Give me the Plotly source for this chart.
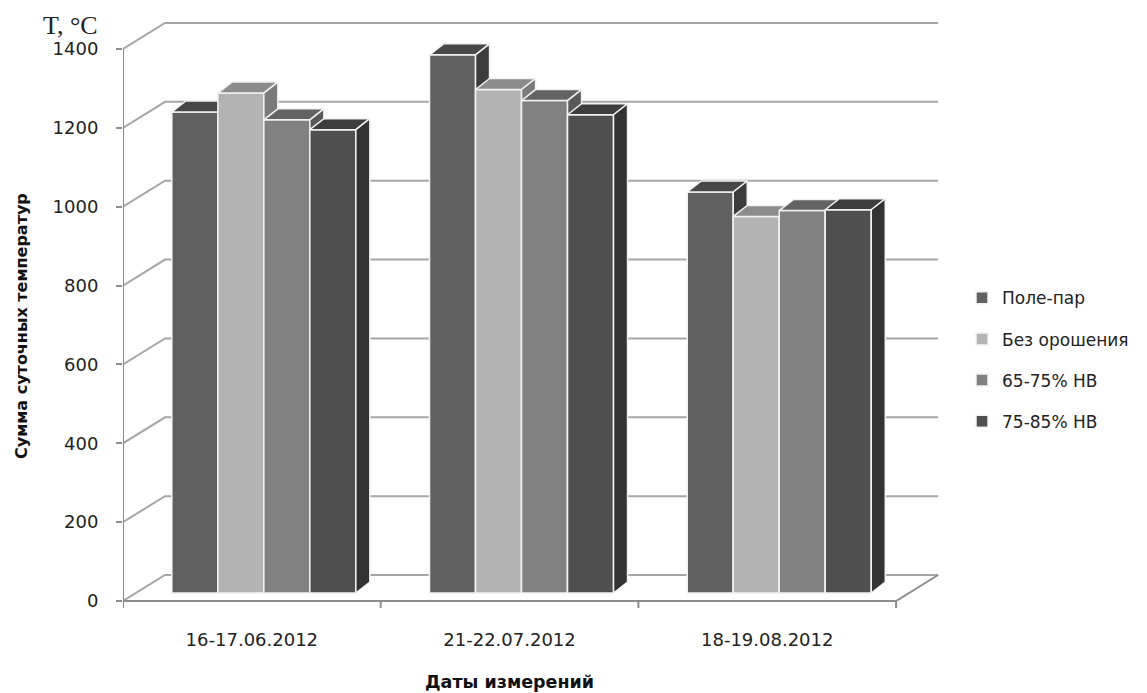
import plotly.graph_objects as go

# ---- data -------------------------------------------------------------
dates = ["16-17.06.2012", "21-22.07.2012", "18-19.08.2012"]
series_names = ["Поле-пар", "Без орошения", "65-75% НВ", "75-85% НВ"]
pole_par = [1220, 1365, 1017]
bez_orosheniya = [1268, 1277, 955]
nv_65_75 = [1200, 1249, 970]
nv_75_85 = [1175, 1213, 972]
y_ticks = [0, 200, 400, 600, 800, 1000, 1200, 1400]

series_values = [pole_par, bez_orosheniya, nv_65_75, nv_75_85]

# ---- styling ----------------------------------------------------------
front_colors = ["#606060", "#b3b3b3", "#818181", "#4f4f4f"]
top_colors = ["#484848", "#8c8c8c", "#636363", "#3d3d3d"]
side_colors = ["#3c3c3c", "#7a7a7a", "#585858", "#333333"]
edge = "#f2f2f2"
grid_color = "#a6a6a6"
sans = "DejaVu Sans"

W, H = 1147, 693
ML, MR, MT, MB = 123, 202, 10, 83
plot_w = W - ML - MR
plot_h = H - MT - MB

# axis ranges: one category = 257.7 px, 1400 units = 552 px
px_per_x = 257.7
px_per_y = 552 / 1400
x_range = [-0.5, -0.5 + plot_w / px_per_x]
y_bottom = -(plot_h - (601 - MT)) / px_per_y
y_range = [y_bottom, y_bottom + plot_h / px_per_y]


def ux(px):
    return px / px_per_x


def uy(px):
    return px / px_per_y


# oblique projection offsets
bar_w = ux(46)
bar_shift_x = ux(12)      # front face of bars sits slightly behind the front plane
bar_base = uy(8)
depth_x, depth_y = ux(14), uy(11)
wall_x, wall_y = ux(42), uy(26)
x_left, x_right = -0.5, 2.5

fig = go.Figure()

# back wall gridlines with the left-wall diagonals
gx, gy = [], []
for t in y_ticks:
    gx += [x_left, x_left + wall_x, x_right + wall_x, None]
    gy += [t, t + wall_y, t + wall_y, None]
fig.add_trace(go.Scatter(x=gx, y=gy, mode="lines", line=dict(color=grid_color, width=2),
                         hoverinfo="skip", showlegend=False, zorder=0))

# front edge of the floor, right floor edge, value axis line and category ticks
ax_x = [x_left, x_right, x_right + wall_x, None, x_left, x_left, None]
ax_y = [0, 0, wall_y, None, 0, y_ticks[-1], None]
for k in range(len(dates) + 1):
    b = x_left + k
    ax_x += [b, b, None]
    ax_y += [0, -uy(7), None]
fig.add_trace(go.Scatter(x=ax_x, y=ax_y, mode="lines", line=dict(color="#8c8c8c", width=2),
                         hoverinfo="skip", showlegend=False, zorder=0))

# columns: front face as a bar, then its top and side faces
for i, (name, vals) in enumerate(zip(series_names, series_values)):
    offset = -2 * bar_w + i * bar_w + bar_shift_x
    z = 2 + i
    fig.add_trace(go.Bar(
        x=list(range(len(dates))), y=vals, base=[bar_base] * len(vals),
        width=bar_w, offset=offset, name=name,
        marker=dict(color=front_colors[i], line=dict(color=edge, width=1.5)),
        legendgroup=name, zorder=z,
    ))
    tx, ty, sx, sy = [], [], [], []
    for c, v in enumerate(vals):
        xl = c + offset
        xr = xl + bar_w
        top = bar_base + v
        tx += [xl, xr, xr + depth_x, xl + depth_x, xl, None]
        ty += [top, top, top + depth_y, top + depth_y, top, None]
        sx += [xr, xr + depth_x, xr + depth_x, xr, xr, None]
        sy += [top, top + depth_y, bar_base + depth_y, bar_base, top, None]
    fig.add_trace(go.Scatter(x=tx, y=ty, mode="lines", fill="toself", fillcolor=top_colors[i],
                             line=dict(color=edge, width=1.5), hoverinfo="skip",
                             showlegend=False, legendgroup=name, zorder=z))
    fig.add_trace(go.Scatter(x=sx, y=sy, mode="lines", fill="toself", fillcolor=side_colors[i],
                             line=dict(color=edge, width=1.5), hoverinfo="skip",
                             showlegend=False, legendgroup=name, zorder=z))

fig.update_layout(
    width=W, height=H,
    margin=dict(l=ML, r=MR, t=MT, b=MB),
    paper_bgcolor="white", plot_bgcolor="white",
    barmode="overlay",
    showlegend=True,
    legend=dict(x=(962 - ML) / plot_w, y=0.417, xanchor="left", yanchor="middle",
                font=dict(family=sans, size=17, color="#222222"),
                tracegroupgap=16, itemwidth=30, bgcolor="rgba(0,0,0,0)"),
    xaxis=dict(range=x_range, tickvals=list(range(len(dates))), ticktext=dates,
               showgrid=False, zeroline=False, showline=False, ticks="",
               ticklabelstandoff=17, tickfont=dict(family=sans, size=18, color="#222222")),
    yaxis=dict(range=y_range, tickvals=y_ticks, showgrid=False, zeroline=False, showline=False,
               ticks="outside", ticklen=6, tickwidth=2, tickcolor="#8c8c8c",
               ticklabelstandoff=14, tickfont=dict(family=sans, size=18, color="#222222")),
    annotations=[
        dict(text="T, °C", xref="paper", yref="paper", x=(100 - ML) / plot_w,
             y=(MT + plot_h - 25) / plot_h, xanchor="right", yanchor="middle", showarrow=False,
             font=dict(family="Liberation Serif", size=26, color="#222222")),
        dict(text="<b>Сумма суточных температур</b>", xref="paper", yref="paper",
             x=(22 - ML) / plot_w, y=(MT + plot_h - 326) / plot_h, textangle=-90,
             xanchor="center", yanchor="middle", showarrow=False,
             font=dict(family=sans, size=16, color="#111111")),
        dict(text="<b>Даты измерений</b>", xref="paper", yref="paper",
             x=(509 - ML) / plot_w, y=(MT + plot_h - 682) / plot_h,
             xanchor="center", yanchor="middle", showarrow=False,
             font=dict(family=sans, size=17.5, color="#111111")),
    ],
)

fig.write_html("out.html")
